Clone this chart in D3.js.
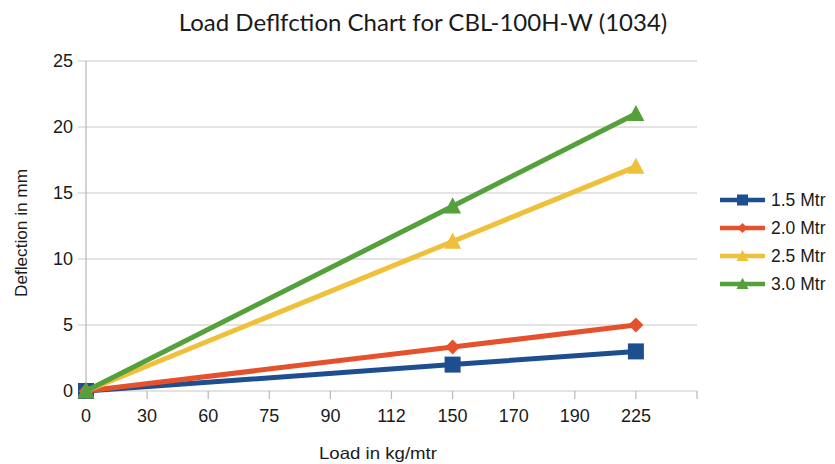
<!DOCTYPE html>
<html><head><meta charset="utf-8">
<script src="https://cdn.jsdelivr.net/npm/d3@7"></script>
<style>body{margin:0;background:#fff}svg{display:block}</style>
</head><body><svg id="c" width="835" height="464"></svg>
<script>
const categories = ["0","30","60","75","90","112","150","170","190","225"];
const yTicks = [0,5,10,15,20,25];
const seriesNames = ["1.5 Mtr","2.0 Mtr","2.5 Mtr","3.0 Mtr"];
const xPoints = ["0","150","225"];
const s15 = [0, 2, 3];
const s20 = [0, 3.33, 5];
const s25 = [0, 11.33, 17];
const s30 = [0, 14, 21];
const colors = ["#1d4e8f","#e5512c","#efc03a","#54a03a"];
const shapes = ["square","diamond","triangle","triangle"];
const seriesValues = [s15, s20, s25, s30];

const svg = d3.select("#c");
const L = 86, R = 697, T = 61, B = 391;
const x = d3.scaleLinear().domain([0, categories.length]).range([L, R]);
const xc = c => x(categories.indexOf(c));
const y = d3.scaleLinear().domain([0, 25]).range([B, T]);
const FONT = "Liberation Sans, Arial, sans-serif";

// gridlines
svg.append("g").selectAll("line").data(yTicks).join("line")
  .attr("x1", L - 8).attr("x2", R).attr("y1", d => y(d)).attr("y2", d => y(d))
  .attr("stroke", "#c8c8c8").attr("stroke-width", 1.2);
// y axis line
svg.append("line").attr("x1", L).attr("x2", L).attr("y1", T).attr("y2", B + 8)
  .attr("stroke", "#b8b8b8").attr("stroke-width", 1.2);
// x ticks
const xIdx = d3.range(categories.length + 1);
svg.append("g").selectAll("line").data(xIdx).join("line")
  .attr("x1", d => x(d)).attr("x2", d => x(d)).attr("y1", B).attr("y2", B + 8)
  .attr("stroke", "#b8b8b8").attr("stroke-width", 1.2);

// tick labels
svg.append("g").selectAll("text").data(yTicks).join("text")
  .attr("x", L - 13).attr("y", d => y(d)).attr("dy", "0.36em")
  .attr("text-anchor", "end").attr("font-family", FONT)
  .attr("font-size", 18).attr("fill", "#1a1a1a").text(d => d);
svg.append("g").selectAll("text").data(categories).join("text")
  .attr("x", d => xc(d)).attr("y", B + 31)
  .attr("text-anchor", "middle").attr("font-family", FONT)
  .attr("font-size", 18).attr("fill", "#1a1a1a").text(d => d);

// axis titles
svg.append("text").attr("x", 378).attr("y", 459).attr("text-anchor", "middle")
  .attr("font-family", FONT).attr("font-size", 16.5)
  .attr("textLength", 118).attr("lengthAdjust", "spacingAndGlyphs")
  .attr("fill", "#1a1a1a").text("Load in kg/mtr");
svg.append("text").attr("transform", "translate(27,233) rotate(-90)").attr("text-anchor", "middle")
  .attr("font-family", FONT).attr("font-size", 16)
  .attr("textLength", 128).attr("lengthAdjust", "spacingAndGlyphs")
  .attr("fill", "#1a1a1a").text("Deflection in mm");

// title
svg.append("text").attr("x", 423).attr("y", 31).attr("text-anchor", "middle")
  .attr("font-family", "Lato, 'Open Sans', sans-serif").attr("font-size", 24)
  .attr("fill", "#1a1a1a").text("Load Deflfction Chart for CBL-100H-W (1034)");

function marker(g, shape, cx, cy, color, h) {
  if (shape === "square") {
    g.append("rect").attr("x", cx - h).attr("y", cy - h).attr("width", 2*h).attr("height", 2*h).attr("fill", color);
  } else if (shape === "diamond") {
    g.append("path").attr("d", `M${cx},${cy-h}L${cx+h},${cy}L${cx},${cy+h}L${cx-h},${cy}Z`).attr("fill", color);
  } else {
    g.append("path").attr("d", `M${cx},${cy-h*1.05}L${cx+h},${cy+h*0.85}L${cx-h},${cy+h*0.85}Z`).attr("fill", color);
  }
}
const msize = [8, 7.5, 8.5, 8.5];
const line = d3.line().x((d, i) => xc(xPoints[i])).y(d => y(d));
seriesValues.forEach((vals, si) => {
  const g = svg.append("g");
  g.append("path").attr("d", line(vals)).attr("fill", "none")
    .attr("stroke", colors[si]).attr("stroke-width", 5).attr("stroke-linejoin", "round");
  vals.forEach((v, i) => marker(g, shapes[si], xc(xPoints[i]), y(v), colors[si], msize[si]));
});

// legend
const lg = svg.append("g");
const lsize = [5.5, 5, 6, 6];
seriesNames.forEach((n, i) => {
  const ly = 200 + i * 28;
  lg.append("line").attr("x1", 720).attr("x2", 765).attr("y1", ly).attr("y2", ly)
    .attr("stroke", colors[i]).attr("stroke-width", 4.5);
  marker(lg, shapes[i], 742.5, ly, colors[i], lsize[i]);
  lg.append("text").attr("x", 771).attr("y", ly).attr("dy", "0.36em")
    .attr("font-family", FONT).attr("font-size", 17.5)
    .attr("fill", "#1a1a1a").text(n);
});
</script></body></html>
